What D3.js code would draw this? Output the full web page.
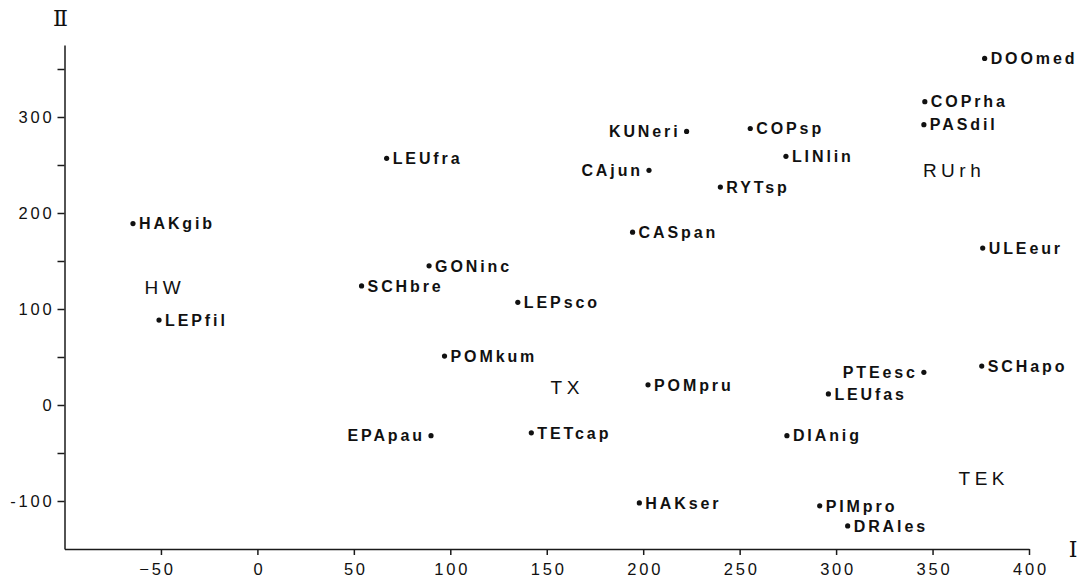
<!DOCTYPE html>
<html>
<head>
<meta charset="utf-8">
<script src="https://cdn.jsdelivr.net/npm/d3@7"></script>
<style>
  html, body { margin: 0; padding: 0; background: #fff; }
  svg { display: block; }
  .lbl { font-family: "Liberation Sans", Arial, sans-serif; font-weight: bold; font-size: 16px; letter-spacing: 2.9px; fill: #111; }
  .grp { font-family: "Liberation Sans", Arial, sans-serif; font-size: 19px; letter-spacing: 4.5px; fill: #111; }
  .tick text { font-family: "Liberation Sans", Arial, sans-serif; font-size: 16.5px; letter-spacing: 2.8px; fill: #111; }
  .roman { font-family: "DejaVu Serif", "Liberation Serif", serif; font-size: 22px; fill: #111; }
</style>
</head>
<body>
<svg id="chart" width="1085" height="577"></svg>
<script>
// ---- data ----
const species = ["DOOmed","COPrha","PASdil","KUNeri","COPsp","LINlin","CAjun","RYTsp","CASpan","ULEeur",
                 "LEUfra","HAKgib","GONinc","SCHbre","LEPsco","LEPfil","POMkum","POMpru","PTEesc","SCHapo",
                 "LEUfas","EPApau","TETcap","DIAnig","HAKser","PIMpro","DRAles"];
const axisI  = [377, 346, 345.5, 222.5, 255.5, 274, 203, 240, 194.5, 376,
                67, -64.5, 89, 54, 135, -51, 97, 202.5, 345.5, 375.5,
                296, 90, 142, 274.5, 198, 291.5, 306];
const axisII = [361, 316, 292, 285, 288, 259, 244.5, 227, 180, 163.5,
                257, 189, 145, 124, 107, 88.5, 51, 21, 34, 40.5,
                11.5, -32, -29, -32, -102, -105, -126];
const labelSide = ["r","r","r","l","r","r","l","r","r","r",
                   "r","r","r","r","r","r","r","r","l","r",
                   "r","l","r","r","r","r","r"];

const groupNames = ["HW", "TX", "RUrh", "TEK"];
const groupI  = [-58.5, 152, 345, 363.5];
const groupII = [123, 18.5, 244.5, -76.5];

const xTicks = [-50, 0, 50, 100, 150, 200, 250, 300, 350, 400];
const yTicks = [-100, -50, 0, 50, 100, 150, 200, 250, 300, 350];
const yLabelled = [-100, 0, 100, 200, 300];

// ---- chart ----
const svg = d3.select("#chart");
const x = d3.scaleLinear().domain([-100, 400]).range([64.5, 1029]);
const y = d3.scaleLinear().domain([-150, 375]).range([549, 45]);

const xAxis = svg.append("g")
  .attr("transform", `translate(0,${y(-150)})`)
  .call(d3.axisBottom(x).tickValues(xTicks).tickSize(6).tickSizeOuter(0).tickPadding(8));
xAxis.selectAll(".tick text").attr("dx", d => d < 0 ? -4 : 1.5);

const yAxis = svg.append("g")
  .attr("transform", `translate(${x(-100)},0)`)
  .call(d3.axisLeft(y).tickValues(yTicks).tickSize(7).tickSizeOuter(0).tickPadding(3)
        .tickFormat(d => yLabelled.includes(d) ? d : ""));

svg.selectAll(".domain, .tick line").attr("stroke", "#1a1a1a").attr("stroke-width", 1.5);

// axis names
svg.append("text").attr("class", "roman")
  .attr("x", x(-100) - 4).attr("y", y(375) - 19)
  .attr("text-anchor", "middle").text("Ⅱ");
svg.append("text").attr("class", "roman")
  .attr("x", x(400) + 44).attr("y", y(-150) + 8)
  .attr("text-anchor", "middle").text("I");

// points
const pts = species.map((s, i) => ({ name: s, a: axisI[i], b: axisII[i], side: labelSide[i] }));

svg.append("g").selectAll("circle").data(pts).join("circle")
  .attr("cx", d => x(d.a)).attr("cy", d => y(d.b)).attr("r", 2.6).attr("fill", "#111");

svg.append("g").selectAll("text").data(pts).join("text")
  .attr("class", "lbl")
  .attr("x", d => d.side === "r" ? x(d.a) + 6 : x(d.a) - 6)
  .attr("y", d => y(d.b))
  .attr("dy", "0.36em")
  .attr("text-anchor", d => d.side === "r" ? "start" : "end")
  .text(d => d.name);

// group labels
svg.append("g").selectAll("text").data(groupNames).join("text")
  .attr("class", "grp")
  .attr("x", (d, i) => x(groupI[i]))
  .attr("y", (d, i) => y(groupII[i]))
  .attr("dy", "0.36em")
  .text(d => d);
</script>
</body>
</html>
